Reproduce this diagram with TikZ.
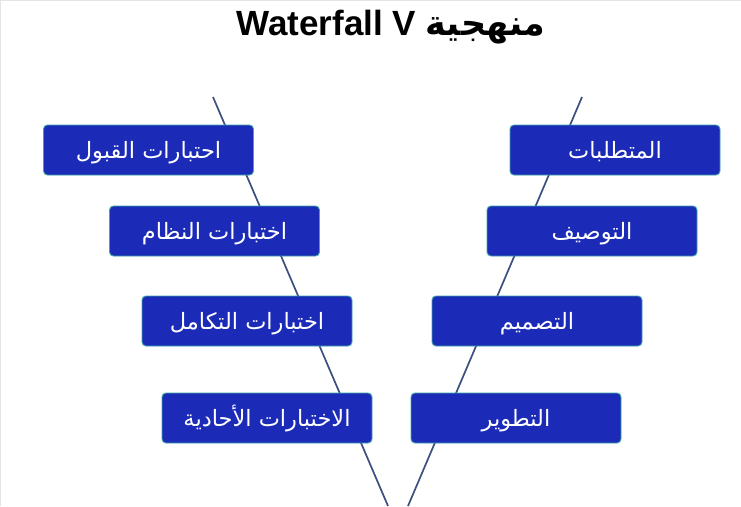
\documentclass[tikz,border=0pt]{standalone}
\usepackage{fontspec}
\setmainfont{Liberation Sans}
\newfontfamily\arabicfont[Script=Arabic]{DejaVu Sans}
\TeXXeTstate=1
\definecolor{boxblue}{HTML}{1B2BB8}
\definecolor{boxedge}{HTML}{3FA3A8}
\definecolor{vline}{HTML}{3C4F7E}
\definecolor{frame}{HTML}{E4E4E4}
\newcommand{\stagetext}[1]{\raisebox{-8pt}[0pt][0pt]{\beginR #1\endR}}
\tikzset{
  stagebox/.style={draw=boxedge, line width=0.9pt, fill=boxblue, rounded corners=4pt,
    minimum width=210pt, minimum height=50pt, inner sep=0pt, text=white,
    font=\arabicfont\fontsize{22.5}{26}\selectfont},
  vleg/.style={draw=vline, line width=1.7pt}
}
\begin{document}
\begin{tikzpicture}[x=1pt,y=-1pt]
\useasboundingbox (0,0) rectangle (741,506);
\fill[white] (0,0) rectangle (741,506);
\draw[frame, line width=1.2pt] (0.6,506) -- (0.6,0.6) -- (741,0.6);
% V legs
\coordinate (ltop) at (213,97);
\coordinate (rtop) at (582,97);
\coordinate (lbot) at (388,506);
\coordinate (rbot) at (408,506);
\draw[vleg] (ltop) -- (lbot);
\draw[vleg] (rtop) -- (rbot);
% title
\node (title) at (391,27) {\fontsize{35}{40}\selectfont\bfseries\beginR{\arabicfont منهجية} \beginL Waterfall V\endL\endR};
% left boxes
\node[stagebox] (l1) at (148.5,150) {\stagetext{احتبارات القبول}};
\node[stagebox] (l2) at (214.5,231) {\stagetext{اختبارات النظام}};
\node[stagebox] (l3) at (247,321) {\stagetext{اختبارات التكامل}};
\node[stagebox] (l4) at (267,418) {\stagetext{الاختبارات الأحادية}};
% right boxes
\node[stagebox] (r1) at (615,150) {\stagetext{المتطلبات}};
\node[stagebox] (r2) at (592,231) {\stagetext{التوصيف}};
\node[stagebox] (r3) at (537,321) {\stagetext{التصميم}};
\node[stagebox] (r4) at (516,418) {\stagetext{التطوير}};
\end{tikzpicture}
\end{document}
